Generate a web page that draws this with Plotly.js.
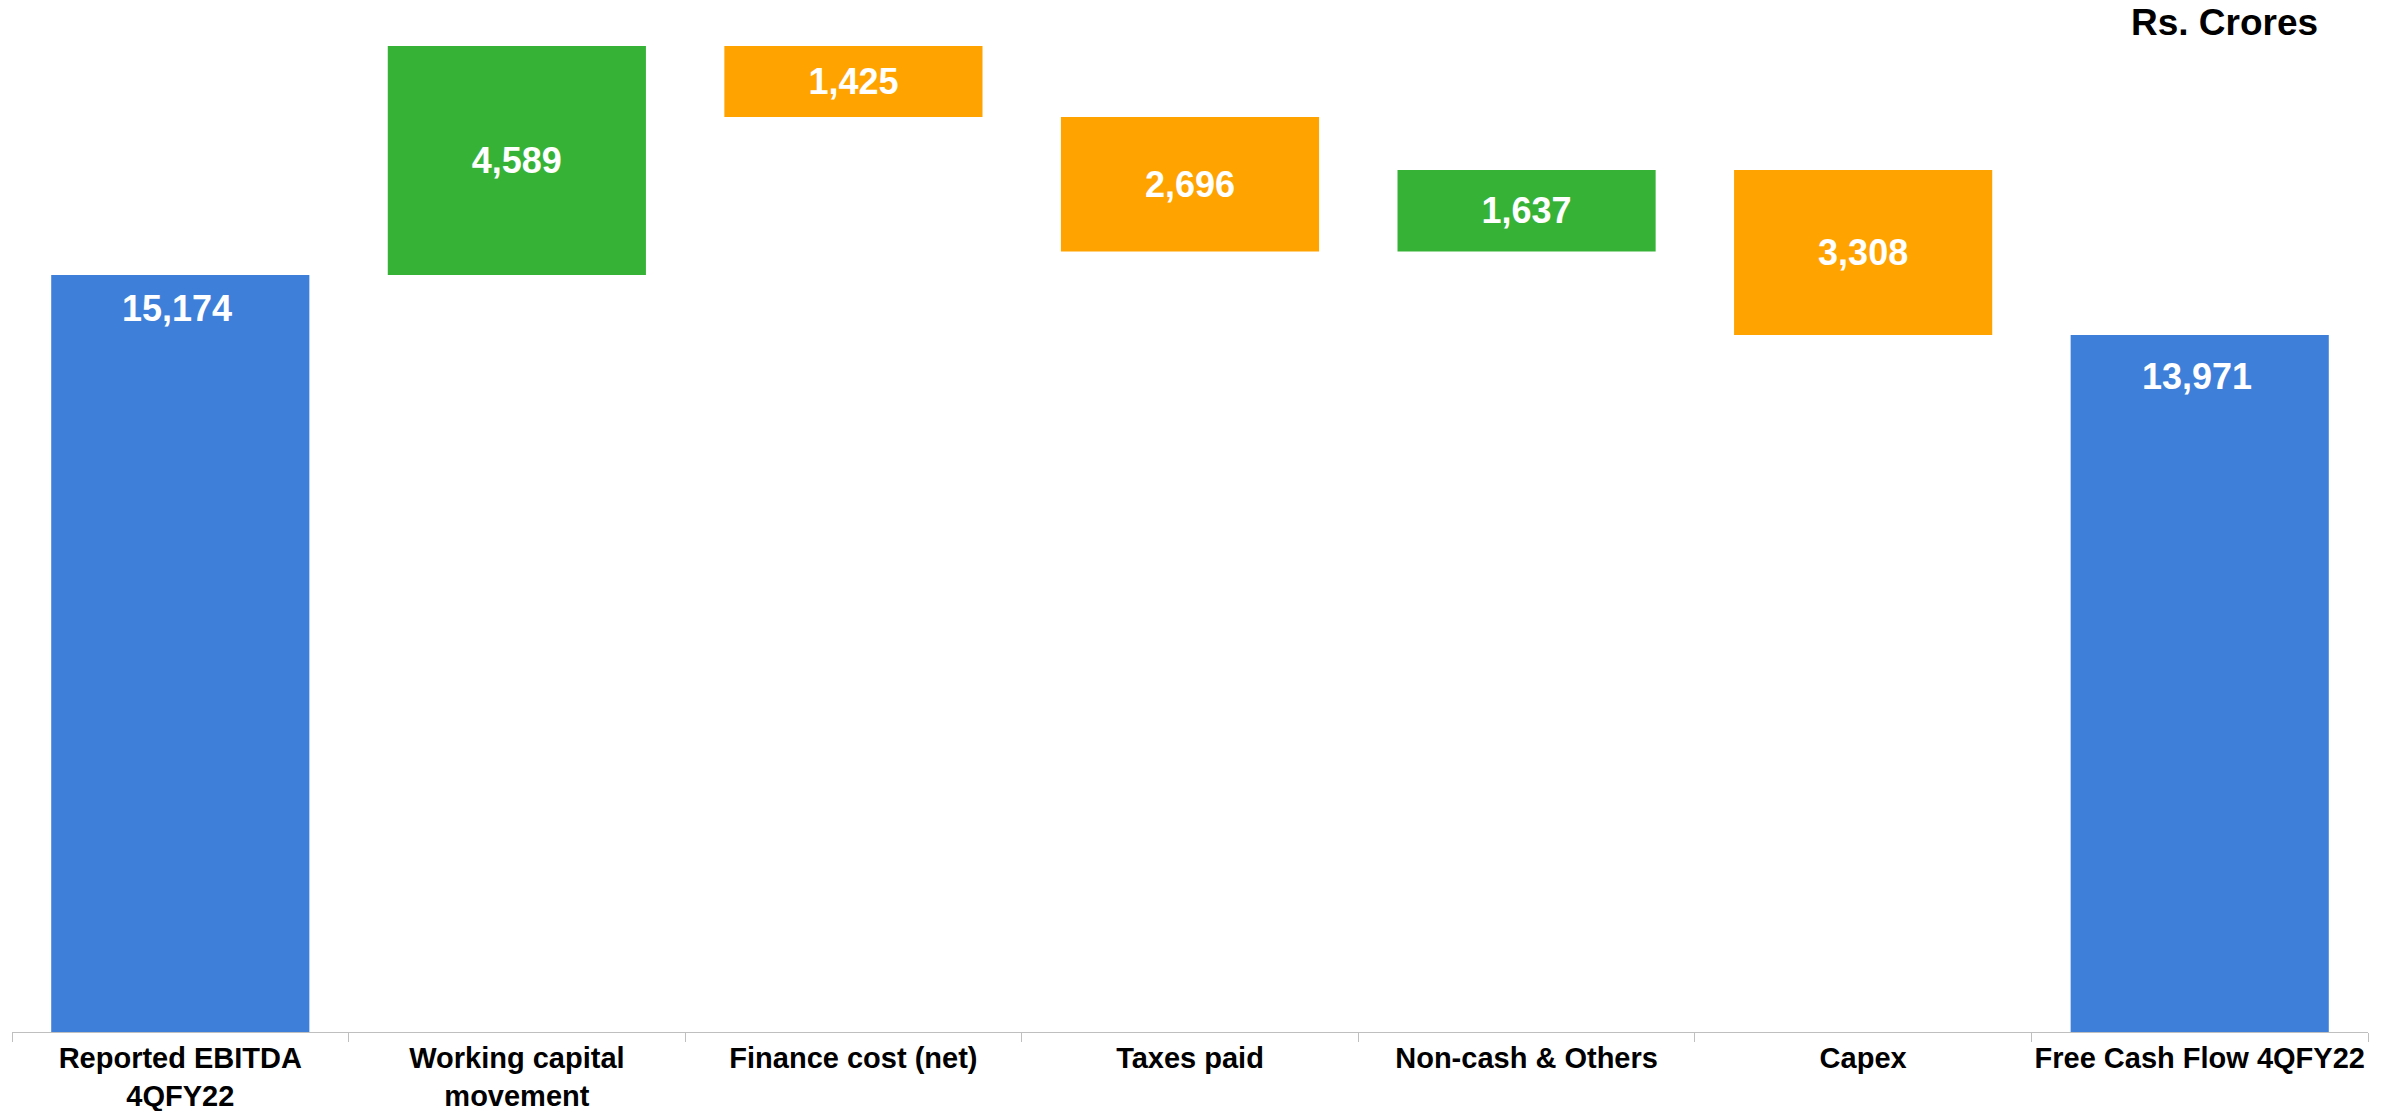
<!DOCTYPE html>
<html>
<head>
<meta charset="utf-8">
<script src="https://cdn.plot.ly/plotly-3.0.1.min.js"></script>
<style>
  html, body { margin: 0; padding: 0; background: #ffffff; }
  #chart { width: 2397px; height: 1111px; }
</style>
</head>
<body>
<div id="chart"></div>
<script>
// ---- Data ----
const categories = [
  "Reported EBITDA 4QFY22",
  "Working capital movement",
  "Finance cost (net)",
  "Taxes paid",
  "Non-cash & Others",
  "Capex",
  "Free Cash Flow 4QFY22"
];
const tickLabels = [
  "Reported EBITDA<br>4QFY22",
  "Working capital<br>movement",
  "Finance cost (net)",
  "Taxes paid",
  "Non-cash & Others",
  "Capex",
  "Free Cash Flow 4QFY22"
];
const measures = ["absolute", "relative", "relative", "relative", "relative", "relative", "total"];
const values = [15174, 4589, -1425, -2696, 1637, -3308, 13971];
const unitLabel = "Rs. Crores";

// ---- Styling ----
const FONT = "Arial, 'Liberation Sans', sans-serif";
const BLUE = "#3E7FDA";
const GREEN = "#36B336";
const ORANGE = "#FFA300";

function fmt(v) { return Math.abs(v).toLocaleString("en-US"); }

// inside labels only for the change bars; totals get annotations near top
const barText = values.map((v, i) => measures[i] === "relative" ? fmt(v) : "");

const trace = {
  type: "waterfall",
  x: categories,
  y: values.map((v, i) => measures[i] === "total" ? 0 : v),
  measure: measures,
  text: barText,
  textposition: "inside",
  insidetextanchor: "middle",
  textangle: 0,
  insidetextfont: { family: FONT, size: 36, color: "#ffffff", weight: "bold" },
  textfont: { family: FONT, size: 36, color: "#ffffff", weight: "bold" },
  constraintext: "none",
  connector: { visible: false },
  increasing: { marker: { color: GREEN, line: { width: 0 } } },
  decreasing: { marker: { color: ORANGE, line: { width: 0 } } },
  totals: { marker: { color: BLUE, line: { width: 0 } } },
  hoverinfo: "skip"
};

const totalShift = { 0: -34, 6: -42 };
const annotations = [];
values.forEach((v, i) => {
  if (measures[i] !== "relative") {
    annotations.push({
      x: categories[i], y: v, xref: "x", yref: "y",
      text: "<b>" + fmt(v) + "</b>",
      showarrow: false, xanchor: "center", yanchor: "middle",
      yshift: totalShift[i], xshift: -3,
      font: { family: FONT, size: 36, color: "#ffffff" }
    });
  }
});
annotations.push({
  x: 0.9797, y: 0.978, xref: "paper", yref: "paper",
  text: "<b>" + unitLabel + "</b>",
  showarrow: false, xanchor: "right", yanchor: "middle",
  font: { family: FONT, size: 37, color: "#000000" }
});

const layout = {
  width: 2397, height: 1111,
  margin: { l: 12, r: 29, t: 0, b: 79 },
  paper_bgcolor: "#ffffff", plot_bgcolor: "#ffffff",
  showlegend: false,
  waterfallgap: 0.233,
  xaxis: {
    type: "category",
    tickmode: "array",
    tickvals: categories,
    ticktext: tickLabels,
    tickson: "boundaries",
    ticks: "outside", ticklen: 9, tickwidth: 1, tickcolor: "#BFBFBF",
    showline: true, linecolor: "#BFBFBF", linewidth: 1,
    showgrid: false, zeroline: false,
    tickfont: { family: FONT, size: 29, color: "#000000", weight: "bold" },
    tickangle: 0,
    automargin: false
  },
  yaxis: {
    range: [0, 20685],
    visible: false,
    showgrid: false, zeroline: false, fixedrange: true
  },
  annotations: annotations
};

Plotly.newPlot("chart", [trace], layout, { staticPlot: true, displayModeBar: false });
</script>
</body>
</html>
